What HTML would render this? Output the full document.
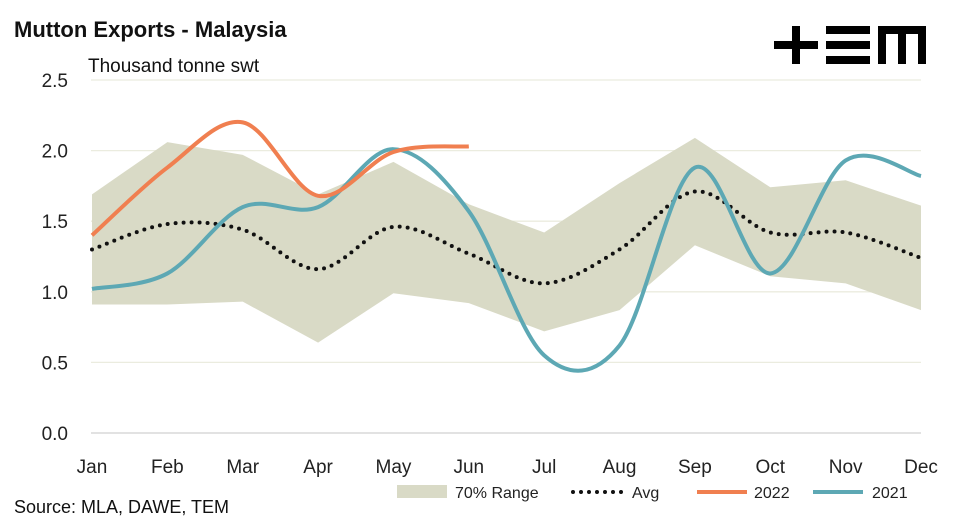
<!DOCTYPE html>
<html><head><meta charset="utf-8"><style>
body{margin:0;width:960px;height:523px;background:#fff;font-family:"Liberation Sans",sans-serif;overflow:hidden}
</style></head><body>
<svg width="960" height="523" xmlns="http://www.w3.org/2000/svg">
<text x="14" y="37" font-size="22" font-weight="bold" fill="#111">Mutton Exports - Malaysia</text>
<text x="88" y="72" font-size="19" fill="#111">Thousand tonne swt</text>
<g fill="#000">
<rect x="774" y="41" width="44" height="8"/><rect x="792" y="26" width="8" height="38"/>
<rect x="826" y="26" width="44" height="8"/><rect x="826" y="41" width="44" height="8"/><rect x="826" y="56" width="44" height="8"/>
<rect x="878" y="26" width="48" height="8"/><rect x="878" y="26" width="8" height="38"/><rect x="898" y="26" width="8" height="38"/><rect x="918" y="26" width="8" height="38"/>
</g>
<g id="plot"></g>
<text x="14" y="513" font-size="18" fill="#111">Source: MLA, DAWE, TEM</text>
<g font-size="16" fill="#222">
<g><rect x="397" y="485" width="50" height="13" fill="#d9dac6"/><text x="455" y="498">70% Range</text></g>
<g><line x1="573" y1="492" x2="623" y2="492" stroke="#111" stroke-width="4" stroke-dasharray="0 8" stroke-linecap="round"/><text x="632" y="498">Avg</text></g>
<g><line x1="697" y1="492" x2="747" y2="492" stroke="#f07f50" stroke-width="4"/><text x="754" y="498">2022</text></g>
<g><line x1="813" y1="492" x2="863" y2="492" stroke="#5da8b4" stroke-width="4"/><text x="872" y="498">2021</text></g>
</g>
</svg>
<script>
const months=["Jan","Feb","Mar","Apr","May","Jun","Jul","Aug","Sep","Oct","Nov","Dec"];
const yTicks=[0,0.5,1,1.5,2,2.5];
const rangeUpper=[1.69,2.06,1.97,1.69,1.92,1.62,1.42,1.77,2.09,1.74,1.79,1.61];
const rangeLower=[0.91,0.91,0.93,0.64,0.99,0.92,0.72,0.87,1.33,1.11,1.06,0.87];
const avg=[1.30,1.48,1.44,1.16,1.46,1.27,1.06,1.30,1.71,1.42,1.42,1.24];
const s2022=[1.40,1.88,2.20,1.68,1.99,2.03];
const s2021=[1.02,1.13,1.60,1.60,2.01,1.57,0.55,0.62,1.88,1.13,1.93,1.82];
const NS="http://www.w3.org/2000/svg";
const g=document.getElementById('plot');
const X=i=>92+i*(921-92)/11;
const Y=v=>433-v*(433-80)/2.5;
function mk(t,a){const e=document.createElementNS(NS,t);for(const k in a)e.setAttribute(k,a[k]);g.appendChild(e);return e;}
yTicks.forEach(t=>{const e=mk('line',{x1:91,x2:921,y1:Y(t),y2:Y(t),stroke:t===0?'#d0d0d0':'#ebecdf','stroke-width':1.3});

});
let pts=rangeUpper.map((v,i)=>X(i)+','+Y(v)).concat(rangeLower.map((v,i)=>[i,v]).reverse().map(([i,v])=>X(i)+','+Y(v)));
const band=mk('polygon',{points:pts.join(' '),fill:'#d9dac6'});


yTicks.forEach(t=>{const e=mk('text',{x:68,y:Y(t)+7,'font-size':19,'text-anchor':'end',fill:'#222'});e.textContent=t.toFixed(1);

});
months.forEach((m,i)=>{const e=mk('text',{x:X(i),y:473,'font-size':19,'text-anchor':'middle',fill:'#222'});e.textContent=m;

});
function smooth(arr){const p=arr.map((v,i)=>[X(i),Y(v)]);let d='M'+p[0];
for(let i=0;i<p.length-1;i++){const p0=p[i-1]||p[i],p1=p[i],p2=p[i+1],p3=p[i+2]||p2;
const c1=[p1[0]+(p2[0]-p0[0])/6,p1[1]+(p2[1]-p0[1])/6],c2=[p2[0]-(p3[0]-p1[0])/6,p2[1]-(p3[1]-p1[1])/6];
d+=' C'+c1+' '+c2+' '+p2;}return d;}
const a=mk('path',{d:smooth(avg),fill:'none',stroke:'#111','stroke-width':4,'stroke-dasharray':'0 8','stroke-linecap':'round'});


const l21=mk('path',{d:smooth(s2021),fill:'none',stroke:'#5da8b4','stroke-width':4});


const l22=mk('path',{d:smooth(s2022),fill:'none',stroke:'#f07f50','stroke-width':4});


</script>
</body></html>
